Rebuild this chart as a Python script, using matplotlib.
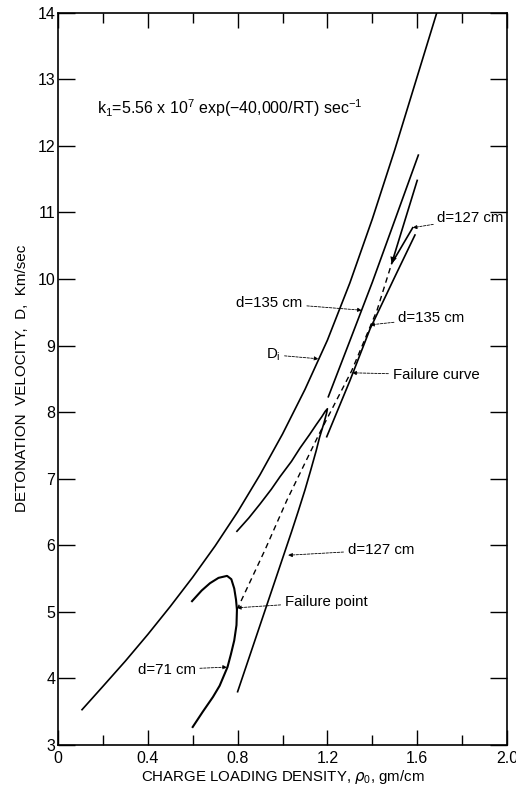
import numpy as np
import matplotlib.pyplot as plt

plt.rcParams['font.family'] = ['Liberation Sans', 'DejaVu Sans']

# --- curves (density gm/cm, velocity km/sec) ---
di_x = [0.107, 0.2, 0.3, 0.4, 0.5, 0.6, 0.7, 0.8, 0.9, 1.0, 1.1, 1.2, 1.3, 1.4, 1.5, 1.6, 1.70]
di_y = [3.53, 3.88, 4.26, 4.66, 5.08, 5.52, 5.99, 6.50, 7.06, 7.67, 8.34, 9.08, 9.94, 10.90, 11.94, 13.04, 14.14]

d71_x = [0.597, 0.64, 0.677, 0.715, 0.753, 0.772, 0.785, 0.793, 0.797, 0.795, 0.785, 0.77, 0.755, 0.72, 0.69, 0.645, 0.60]
d71_y = [5.16, 5.32, 5.43, 5.51, 5.54, 5.49, 5.35, 5.18, 5.03, 4.80, 4.57, 4.36, 4.17, 3.89, 3.72, 3.50, 3.27]

d127_x = [0.797, 0.85, 0.9, 0.95, 0.989, 1.04, 1.078, 1.12, 1.15, 1.175, 1.19, 1.2, 1.196, 1.185,
          1.165, 1.15, 1.125, 1.10, 1.07, 1.04, 1.01, 0.98, 0.95, 0.92, 0.89, 0.86, 0.83, 0.80]
d127_y = [6.21, 6.41, 6.62, 6.84, 7.03, 7.26, 7.46, 7.66, 7.81, 7.93, 8.01, 8.05, 7.98, 7.84,
          7.62, 7.42, 7.12, 6.83, 6.51, 6.20, 5.90, 5.60, 5.30, 5.00, 4.70, 4.40, 4.10, 3.80]

d135a_x = [1.204, 1.30, 1.40, 1.50, 1.605]
d135a_y = [8.23, 9.07, 9.95, 10.88, 11.86]

d135b_x = [1.197, 1.30, 1.39, 1.50, 1.59]
d135b_y = [7.63, 8.47, 9.25, 10.03, 10.66]

d127u_x = [1.60, 1.486, 1.58]
d127u_y = [11.48, 10.23, 10.77]

fail_x = [0.797, 0.922, 1.02, 1.16, 1.308, 1.421, 1.486]
fail_y = [5.03, 5.93, 6.68, 7.65, 8.62, 9.53, 10.23]

# label text, text position, arrow target
labels = [
    ("d=127 cm", (1.69, 10.91), (1.58, 10.77)),
    ("d=135 cm", (0.795, 9.64), (1.353, 9.53)),
    (r"D$_\mathregular{i}$", (0.925, 8.86), (1.16, 8.80)),
    ("d=135 cm", (1.515, 9.41), (1.39, 9.31)),
    ("Failure curve", (1.49, 8.56), (1.31, 8.59)),
    ("d=127 cm", (1.29, 5.93), (1.025, 5.85)),
    ("Failure point", (1.01, 5.15), (0.797, 5.06)),
    ("d=71 cm", (0.355, 4.13), (0.753, 4.17)),
]

fig = plt.figure(figsize=(5.16, 7.90), dpi=100)
ax = fig.add_axes([0.1124, 0.057, 0.8702, 0.927])

lw = 1.2
ax.plot(di_x, di_y, color='k', lw=lw)
ax.plot(d71_x, d71_y, color='k', lw=1.5)
ax.plot(d127_x, d127_y, color='k', lw=lw)
ax.plot(d135a_x, d135a_y, color='k', lw=lw)
ax.plot(d135b_x, d135b_y, color='k', lw=lw)
ax.plot(d127u_x, d127u_y, color='k', lw=lw)
ax.plot(fail_x, fail_y, color='k', lw=1.0, ls=(0, (4, 3)))

# arrowhead at the tip of the upper d=127 branch
ax.annotate("", xy=(d127u_x[1], d127u_y[1]), xytext=(d127u_x[0], d127u_y[0]),
            arrowprops=dict(arrowstyle='-|>', lw=0, color='k', mutation_scale=12,
                            shrinkA=0, shrinkB=0))

for txt, pos, tip in labels:
    ax.annotate(txt, xy=tip, xytext=pos, fontsize=10.8, va='center', ha='left',
                arrowprops=dict(arrowstyle='-|>', lw=0.6, ls=(0, (3, 1.5)), color='k',
                                mutation_scale=6, shrinkA=1, shrinkB=0))

ax.text(0.174, 12.56, r"k$_\mathregular{1}$=5.56 x 10$^\mathregular{7}$ exp(−40,000/RT) sec$^\mathregular{-1}$",
        fontsize=11.5, va='center', ha='left')

ax.set_xlim(0, 2.0)
ax.set_ylim(3, 14)
ax.set_xticks([0, 0.4, 0.8, 1.2, 1.6, 2.0])
ax.set_xticklabels(["0", "0.4", "0.8", "1.2", "1.6", "2.0"])
ax.set_xticks([0.2, 0.6, 1.0, 1.4, 1.8], minor=True)
ax.set_yticks(range(3, 15))
ax.tick_params(axis='both', which='both', direction='in', top=True, right=True, labelsize=11.5, width=1.0)
ax.tick_params(axis='x', which='major', length=11, pad=4)
ax.tick_params(axis='x', which='minor', length=7)
ax.tick_params(axis='y', which='major', length=12, pad=2)
for s in ax.spines.values():
    s.set_linewidth(1.2)

ax.set_xlabel(r"CHARGE LOADING DENSITY, $\rho_\mathregular{0}$, gm/cm", fontsize=10.8, labelpad=2)
ax.set_ylabel("DETONATION  VELOCITY,  D,  Km/sec", fontsize=11, labelpad=6)

fig.savefig("out.png", dpi=100)
